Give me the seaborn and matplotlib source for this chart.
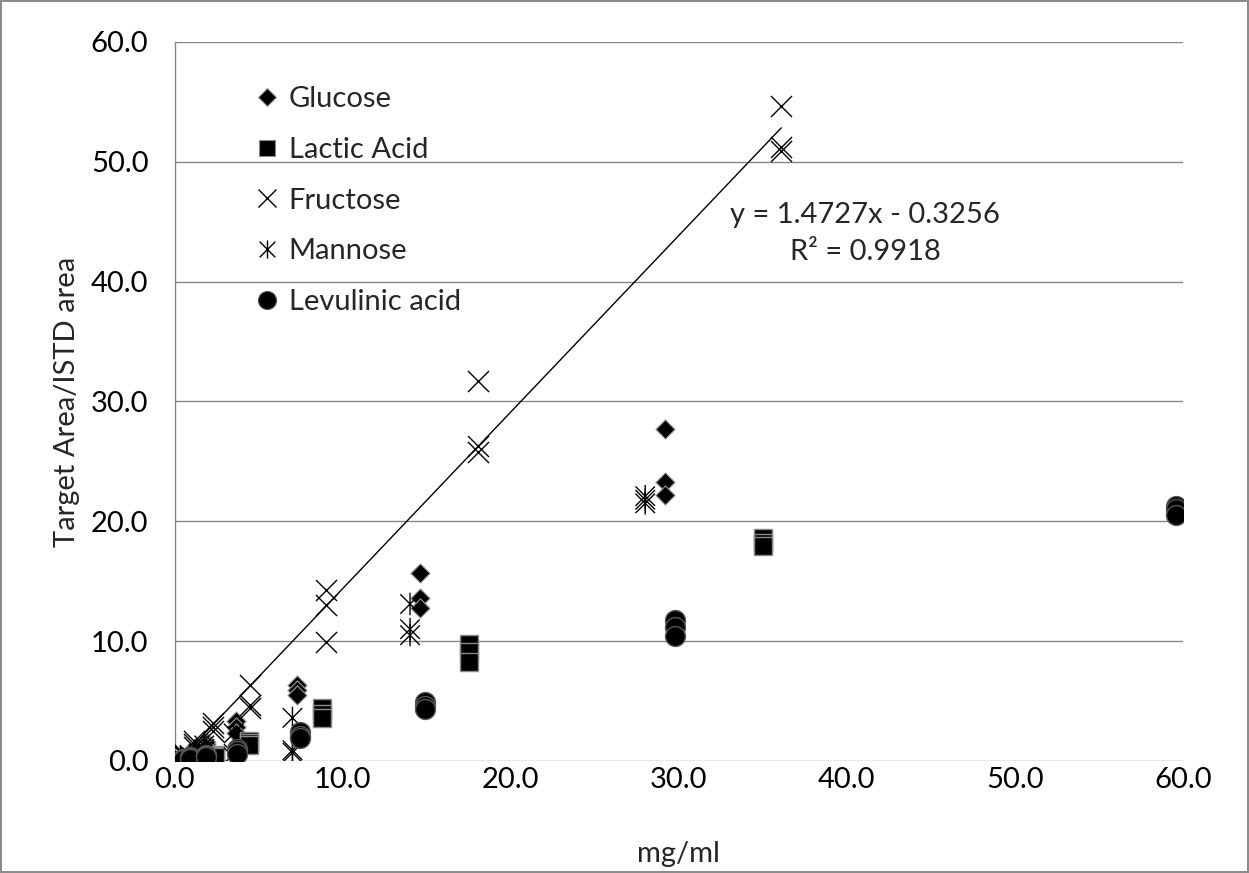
import numpy as np
import pandas as pd
import matplotlib
matplotlib.use("Agg")
import matplotlib.pyplot as plt
from matplotlib.path import Path
from matplotlib.lines import Line2D
import seaborn as sns

# ---------------- data ----------------
glucose_x = [0.46]*3 + [0.91]*3 + [1.83]*3 + [3.65]*3 + [7.3]*3 + [14.6]*3 + [29.2]*3
glucose_y = [0.3, 0.25, 0.2, 0.75, 0.6, 0.5, 1.6, 1.4, 1.2, 3.3, 2.8, 2.3,
             6.3, 5.9, 5.5, 15.7, 13.6, 12.8, 27.7, 23.3, 22.2]

lactic_x = [0.55]*3 + [1.1]*3 + [2.4]*3 + [4.4]*3 + [8.75]*3 + [17.5]*3 + [35.0]*3
lactic_y = [0.1, 0.08, 0.07, 0.25, 0.2, 0.18, 0.5, 0.4, 0.35, 1.7, 1.5, 1.3,
            4.4, 3.9, 3.6, 9.8, 9.1, 8.3, 18.6, 18.2, 17.9]

fructose_x = [0.56]*3 + [1.13]*3 + [2.25]*3 + [4.5]*3 + [9.0]*3 + [18.05]*3 + [36.1]*3
fructose_y = [0.6, 0.5, 0.4, 1.7, 1.4, 1.2, 3.2, 2.8, 2.5, 6.3, 4.7, 4.4,
              14.3, 13.0, 9.9, 31.7, 26.3, 25.8, 54.7, 51.2, 50.9]

mannose_x = [0.44]*3 + [0.875]*3 + [1.75]*3 + [3.5]*3 + [7.0]*3 + [14.0]*3 + [28.0]*3
mannose_y = [0.2, 0.15, 0.1, 0.5, 0.4, 0.3, 1.3, 1.0, 0.8, 2.3, 0.6, 0.3,
             3.6, 0.9, 0.7, 13.1, 11.0, 10.5, 22.1, 21.8, 21.5]

levulinic_x = [0.47]*3 + [0.93]*3 + [1.86]*3 + [3.72]*3 + [7.45]*3 + [14.9]*3 + [29.8]*3 + [59.6]*3
levulinic_y = [0.2, 0.15, 0.1, 0.3, 0.25, 0.2, 0.5, 0.4, 0.3, 1.0, 0.8, 0.6,
               2.4, 2.1, 1.9, 4.9, 4.6, 4.3, 11.8, 11.2, 10.4, 21.3, 21.0, 20.5]

series_names = ["Glucose", "Lactic Acid", "Fructose", "Mannose", "Levulinic acid"]

fit_slope = 1.4727
fit_intercept = -0.3256
fit_r2 = 0.9918

x_ticks = [0, 10, 20, 30, 40, 50, 60]
y_ticks = [0, 10, 20, 30, 40, 50, 60]

# ---------------- style ----------------
sns.set_theme(style="white")
plt.rcParams['font.family'] = ['Lato', 'DejaVu Sans']

FS = 21
GRID = "#878787"

asterisk = Path(
    [(-1, -1), (1, 1), (-1, 1), (1, -1), (0, -1.15), (0, 1.15)],
    [Path.MOVETO, Path.LINETO, Path.MOVETO, Path.LINETO, Path.MOVETO, Path.LINETO],
)

styles = {
    "Glucose": dict(marker="D", s=95, color="black", edgecolor="#9a9a9a", linewidth=0.8),
    "Lactic Acid": dict(marker="s", s=150, color="black", edgecolor="#8a8a8a", linewidth=1.0),
    "Fructose": dict(marker="x", s=230, color="black", linewidth=1.0),
    "Mannose": dict(marker=asterisk, s=260, color="black", edgecolor="black",
                    facecolor="none", linewidth=1.0),
    "Levulinic acid": dict(marker="o", s=205, color="black", edgecolor="#555555", linewidth=1.0),
}

data = {
    "Glucose": (glucose_x, glucose_y),
    "Lactic Acid": (lactic_x, lactic_y),
    "Fructose": (fructose_x, fructose_y),
    "Mannose": (mannose_x, mannose_y),
    "Levulinic acid": (levulinic_x, levulinic_y),
}

fig = plt.figure(figsize=(12.49, 8.73), dpi=100)
fig.patch.set_edgecolor("#8c8c8c")
fig.patch.set_linewidth(1.5)
ax = fig.add_axes([0.140, 0.1283, 0.807, 0.8236])

for name in series_names:
    xs, ys = data[name]
    df = pd.DataFrame({"x": xs, "y": ys})
    sns.scatterplot(data=df, x="x", y="y", ax=ax, legend=False, zorder=3, **styles[name])

# trendline for fructose
fx = np.array([min(fructose_x) - 0.5, max(fructose_x)])
sns.lineplot(x=fx, y=fit_slope * fx + fit_intercept, ax=ax, color="black",
             linewidth=1.0, zorder=2, legend=False)

ax.text(41.1, 45.6, f"y = {fit_slope}x - {abs(fit_intercept)}", ha="center", va="center", fontsize=FS)
ax.text(41.1, 42.5, f"R² = {fit_r2}", ha="center", va="center", fontsize=FS)

ax.set_xlim(0, 60)
ax.set_ylim(0, 60)
ax.set_xticks(x_ticks)
ax.set_yticks(y_ticks)
ax.set_xticklabels([f"{v:.1f}" for v in x_ticks], fontsize=FS)
ax.set_yticklabels([f"{v:.1f}" for v in y_ticks], fontsize=FS)
ax.tick_params(axis="both", length=0, colors="black")
ax.tick_params(axis="y", pad=19)
ax.tick_params(axis="x", pad=4)
ax.set_xlabel("mg/ml", fontsize=FS, labelpad=35)
ax.set_ylabel("Target Area/ISTD area", fontsize=FS, labelpad=8)

ax.grid(axis="y", color=GRID, linewidth=1.0)
ax.grid(axis="x", visible=False)
for side in ["top", "right", "bottom"]:
    ax.spines[side].set_visible(False)
ax.spines["left"].set_color(GRID)
ax.spines["left"].set_linewidth(1.0)
ax.set_axisbelow(True)

handles = []
for name in series_names:
    st = styles[name]
    mk = st["marker"]
    if name == "Fructose" or name == "Mannose":
        h = Line2D([], [], linestyle="none", marker=mk, markersize=13,
                   markeredgecolor="black", markerfacecolor="black", markeredgewidth=1.0)
    else:
        ms = {"Glucose": 9, "Lactic Acid": 12, "Levulinic acid": 13}[name]
        h = Line2D([], [], linestyle="none", marker=mk, markersize=ms,
                   markerfacecolor="black", markeredgecolor=st["edgecolor"], markeredgewidth=0.8)
    handles.append(h)

ax.legend(handles, series_names, loc="upper left", bbox_to_anchor=(0.065, 0.955),
          frameon=False, fontsize=FS, labelspacing=0.85, handletextpad=0.25,
          handlelength=1.0, borderaxespad=0)

fig.savefig("out.png", dpi=100)
